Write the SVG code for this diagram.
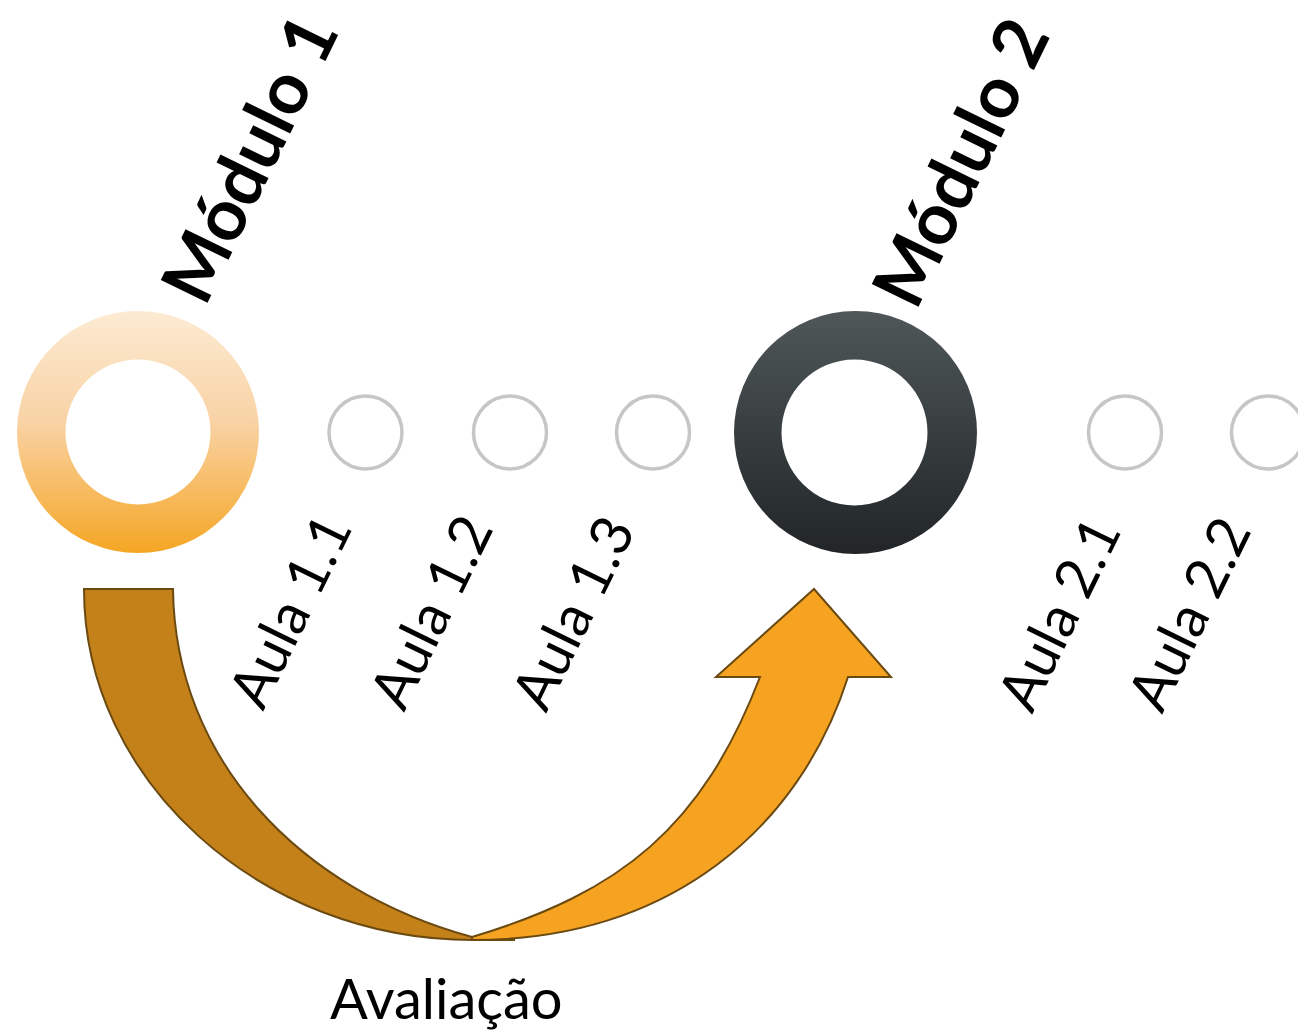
<svg xmlns="http://www.w3.org/2000/svg" width="1298" height="1030" viewBox="0 0 1298 1030">
<defs>
<linearGradient id="gOrange" x1="0" y1="0" x2="0" y2="1">
<stop offset="0" stop-color="#FCEBD3"/>
<stop offset="0.45" stop-color="#F9D3A6"/>
<stop offset="1" stop-color="#F5A623"/>
</linearGradient>
<linearGradient id="gDark" x1="0" y1="0" x2="0" y2="1">
<stop offset="0" stop-color="#4F5759"/>
<stop offset="1" stop-color="#212527"/>
</linearGradient>
<style>
.small{fill:none;stroke:#C6C6C6;stroke-width:3.5}
.mod{font-family:Lato,"Liberation Sans",sans-serif;font-weight:bold;font-size:72px;fill:#000}
.aula{font-family:Lato,"Liberation Sans",sans-serif;font-size:57px;fill:#000}
.arrow{stroke:#6B4A12;stroke-width:2;stroke-linejoin:miter}
</style>
</defs>
<rect width="1298" height="1030" fill="#FFFFFF"/>

<g id="modulo1">
<path fill="url(#gOrange)" fill-rule="evenodd" d="M17,432a121,121 0 1,0 242,0a121,121 0 1,0 -242,0Z M65.5,432a72.5,72.5 0 1,0 145,0a72.5,72.5 0 1,0 -145,0Z"/>
<text class="mod" transform="translate(205,308) rotate(-64)">Módulo 1</text>
</g>

<g id="aula11">
<circle class="small" cx="365.5" cy="432.5" r="36.5"/>
<text class="aula" transform="translate(263,712) rotate(-64)">Aula 1.1</text>
</g>
<g id="aula12">
<circle class="small" cx="510" cy="432.5" r="36.5"/>
<text class="aula" transform="translate(404,713) rotate(-64)">Aula 1.2</text>
</g>
<g id="aula13">
<circle class="small" cx="653" cy="432.5" r="36.5"/>
<text class="aula" transform="translate(546,714) rotate(-64)">Aula 1.3</text>
</g>

<g id="modulo2">
<path fill="url(#gDark)" fill-rule="evenodd" d="M734,432.5a121.5,121.5 0 1,0 243,0a121.5,121.5 0 1,0 -243,0Z M781.5,432.5a73,73 0 1,0 146,0a73,73 0 1,0 -146,0Z"/>
<text class="mod" transform="translate(916,312) rotate(-64)">Módulo 2</text>
</g>

<g id="aula21">
<circle class="small" cx="1125" cy="432.5" r="36.5"/>
<text class="aula" transform="translate(1032,715) rotate(-64)">Aula 2.1</text>
</g>
<g id="aula22">
<circle class="small" cx="1268" cy="432.5" r="36.5"/>
<text class="aula" transform="translate(1162,715) rotate(-64)">Aula 2.2</text>
</g>

<g id="connectors">
<path class="arrow" fill="#C4811A" d="M84,589 L173,589 C175,760 300,890 472,937 Q495,939 515,940 L473,940 C260,940 84,780 84,589 Z"/>
<path class="arrow" fill="#F5A320" d="M472,937 C622,892 702,827 760,677 L716,677 L814,589 L891,677 L848,677 C800,827 672,940 472,940 Z"/>
</g>

<g id="avaliacao">
<text x="330" y="1019" style="font-family:Lato,'Liberation Sans',sans-serif;font-size:56px;fill:#000">Avaliação</text>
</g>
</svg>
